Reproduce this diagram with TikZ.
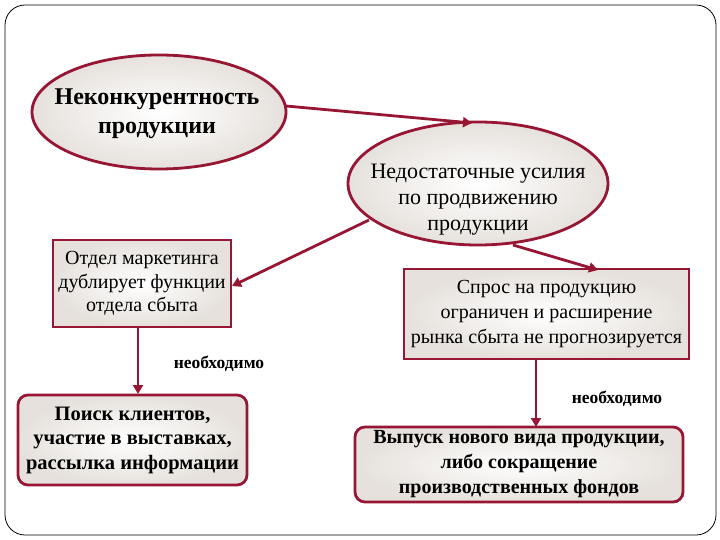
\documentclass[tikz,border=0pt]{standalone}
\usepackage{fontspec}
\setmainfont{Liberation Serif}
\usetikzlibrary{shapes.geometric,arrows.meta}
\definecolor{wine}{RGB}{150,22,52}
\definecolor{shadeout}{RGB}{230,225,220}
\tikzset{
  shp/.style={draw=wine, line width=2.8pt, inner color=white, outer color=shadeout, align=center, inner sep=0pt, text=black},
  ell/.style={shp, ellipse},
  sq/.style={shp, rectangle},
  rnd/.style={shp, rectangle, rounded corners=10pt},
  txt/.style={align=center, inner sep=0pt, text=black},
  arr/.style={draw=wine, line width=2.8pt, -{Triangle[length=9pt,width=10pt]}},
  lbl/.style={font=\fontsize{17.5}{20}\selectfont\bfseries, inner sep=0pt}
}
\begin{document}
\begin{tikzpicture}[x=1pt,y=-1pt]
\useasboundingbox (0,0) rectangle (720,540);
\draw[line width=0.8pt, rounded corners=20pt] (5,5) rectangle (716,535);
\node[ell, minimum width=254pt, minimum height=114pt] (e1) at (159,112) {};
\node[txt, font=\fontsize{24}{29}\selectfont\bfseries] (e1t) at (157,114) {Неконкурентность\\продукции};
\node[ell, minimum width=260pt, minimum height=123pt] (e2) at (478,183.5) {};
\node[txt, font=\fontsize{22}{26}\selectfont] (e2t) at (478,200) {Недостаточные усилия\\по продвижению\\продукции};
\node[sq, minimum width=178pt, minimum height=87pt, font=\fontsize{20}{23.5}\selectfont] (b1) at (142,283.5) {Отдел маркетинга\\дублирует функции\\отдела сбыта};
\node[sq, minimum width=285pt, minimum height=90pt, font=\fontsize{20}{25}\selectfont] (b2) at (546.5,314) {Спрос на продукцию\\ограничен и расширение\\рынка сбыта не прогнозируется};
\node[rnd, minimum width=229pt, minimum height=90pt, font=\fontsize{20.5}{24.5}\selectfont\bfseries] (b3) at (132.5,440) {Поиск клиентов,\\участие в выставках,\\рассылка информации};
\node[rnd, minimum width=328pt, minimum height=75pt, font=\fontsize{20}{25}\selectfont\bfseries] (b4) at (519,464.5) {Выпуск нового вида продукции,\\либо сокращение\\производственных фондов};
\coordinate (a1s) at (286,106);
\coordinate (a1e) at (472,123);
\draw[arr] (a1s) -- (a1e);
\coordinate (a2s) at (369,220);
\coordinate (a2e) at (232,286);
\draw[arr] (a2s) -- (a2e);
\coordinate (a3s) at (513,245);
\coordinate (a3e) at (598,270);
\draw[arr] (a3s) -- (a3e);
\draw[arr] (b1.south -| 138,0) -- (138,394);
\draw[arr] (b2.south -| 536,0) -- (536,427);
\node[lbl] (n1) at (219,364) {необходимо};
\node[lbl] (n2) at (617,399) {необходимо};
\end{tikzpicture}
\end{document}
